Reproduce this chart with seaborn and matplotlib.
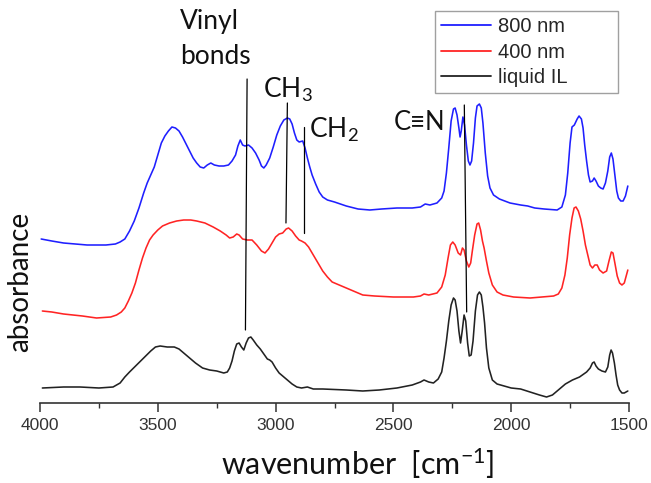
import matplotlib
matplotlib.use("Agg")
import matplotlib.pyplot as plt
from matplotlib.ticker import MultipleLocator
import pandas as pd
import seaborn as sns

# FTIR spectra (wavenumber in cm^-1, absorbance with vertical offsets)
wn_800 = [3995, 3950, 3900, 3800, 3720, 3680, 3660, 3640, 3620, 3600, 3580, 3560,
          3545, 3530, 3515, 3500, 3485, 3470, 3455, 3440, 3425, 3410, 3395, 3380,
          3365, 3350, 3335, 3320, 3305, 3290, 3275, 3260, 3240, 3220, 3200, 3185,
          3170, 3160, 3150, 3140, 3130, 3115, 3100, 3085, 3070, 3060, 3050, 3040,
          3025, 3010, 2995, 2980, 2965, 2950, 2940, 2930, 2920, 2910, 2900, 2885,
          2875, 2865, 2855, 2845, 2830, 2815, 2800, 2780, 2750, 2700, 2650, 2600,
          2550, 2485, 2420, 2385, 2365, 2345, 2315, 2295, 2285, 2275, 2265, 2255,
          2245, 2238, 2230, 2222, 2217, 2212, 2205, 2198, 2190, 2182, 2175, 2168,
          2160, 2152, 2145, 2135, 2127, 2120, 2110, 2100, 2090, 2075, 2050, 2005,
          1960, 1930, 1900, 1860, 1805, 1785, 1770, 1760, 1750, 1742, 1732, 1720,
          1712, 1702, 1695, 1688, 1680, 1672, 1665, 1655, 1648, 1640, 1630, 1620,
          1610, 1600, 1590, 1582, 1575, 1568, 1560, 1552, 1545, 1535, 1525, 1515,
          1505]
abs_800 = [1.64, 1.62, 1.60, 1.58, 1.58, 1.59, 1.61, 1.64, 1.72, 1.82, 1.95, 2.10,
           2.20, 2.28, 2.36, 2.48, 2.60, 2.67, 2.72, 2.76, 2.75, 2.72, 2.66, 2.59,
           2.52, 2.45, 2.40, 2.36, 2.35, 2.38, 2.40, 2.38, 2.37, 2.37, 2.38, 2.42,
           2.48, 2.57, 2.63, 2.58, 2.57, 2.58, 2.55, 2.50, 2.43, 2.37, 2.35, 2.38,
           2.45, 2.56, 2.68, 2.77, 2.83, 2.85, 2.84, 2.79, 2.70, 2.63, 2.61, 2.62,
           2.55, 2.45, 2.36, 2.28, 2.19, 2.11, 2.06, 2.03, 2.01, 1.97, 1.94, 1.93,
           1.94, 1.95, 1.95, 1.96, 1.99, 1.98, 2.00, 2.05, 2.12, 2.30, 2.55, 2.82,
           2.94, 2.95, 2.88, 2.75, 2.66, 2.72, 2.86, 2.78, 2.58, 2.42, 2.38, 2.42,
           2.60, 2.85, 2.97, 2.99, 2.95, 2.80, 2.50, 2.27, 2.15, 2.08, 2.04, 2.00,
           1.98, 1.97, 1.95, 1.94, 1.93, 1.96, 2.08, 2.30, 2.60, 2.76, 2.78, 2.84,
           2.87, 2.84, 2.75, 2.58, 2.42, 2.28, 2.21, 2.22, 2.25, 2.22, 2.17, 2.15,
           2.14, 2.20, 2.32, 2.46, 2.50, 2.44, 2.28, 2.12, 2.05, 2.02, 2.02, 2.07,
           2.17]

wn_400 = [3990, 3950, 3900, 3820, 3760, 3700, 3675, 3655, 3640, 3625, 3610, 3595,
          3580, 3565, 3550, 3535, 3520, 3500, 3480, 3450, 3420, 3390, 3360, 3335,
          3300, 3265, 3235, 3210, 3195, 3180, 3165, 3155, 3140, 3120, 3100, 3080,
          3060, 3045, 3030, 3015, 3000, 2985, 2970, 2955, 2945, 2930, 2915, 2900,
          2890, 2875, 2860, 2840, 2820, 2800, 2780, 2760, 2730, 2700, 2660, 2630,
          2580, 2500, 2415, 2385, 2370, 2350, 2315, 2295, 2280, 2268, 2258, 2248,
          2238, 2225, 2215, 2207, 2200, 2190, 2180, 2172, 2165, 2155, 2145, 2138,
          2130, 2122, 2115, 2105, 2095, 2080, 2060, 2035, 1990, 1920, 1870, 1820,
          1800, 1785, 1772, 1762, 1752, 1742, 1733, 1725, 1715, 1705, 1695, 1685,
          1675, 1665, 1655, 1645, 1635, 1625, 1610, 1595, 1585, 1575, 1568, 1560,
          1550, 1540, 1530, 1520, 1505]
abs_400 = [0.92, 0.91, 0.89, 0.87, 0.85, 0.86, 0.88, 0.91, 0.95, 1.02, 1.10, 1.20,
           1.33, 1.45, 1.55, 1.63, 1.68, 1.73, 1.77, 1.80, 1.82, 1.83, 1.83, 1.82,
           1.80, 1.76, 1.72, 1.68, 1.65, 1.66, 1.69, 1.68, 1.64, 1.63, 1.63, 1.58,
           1.52, 1.50, 1.54, 1.60, 1.66, 1.69, 1.70, 1.74, 1.75, 1.72, 1.67, 1.63,
           1.62, 1.60, 1.56, 1.48, 1.40, 1.32, 1.26, 1.21, 1.18, 1.15, 1.11, 1.08,
           1.07, 1.06, 1.06, 1.07, 1.09, 1.08, 1.10, 1.16, 1.28, 1.45, 1.58, 1.61,
           1.58, 1.50, 1.48, 1.55, 1.53, 1.42, 1.36, 1.40, 1.52, 1.68, 1.79, 1.80,
           1.73, 1.62, 1.55, 1.42, 1.30, 1.18, 1.11, 1.08, 1.06, 1.05, 1.06, 1.07,
           1.09, 1.15, 1.28, 1.45, 1.68, 1.85, 1.95, 1.96, 1.92, 1.84, 1.72, 1.58,
           1.48, 1.38, 1.35, 1.38, 1.38, 1.33, 1.30, 1.32, 1.42, 1.51, 1.50, 1.40,
           1.27, 1.20, 1.18, 1.20, 1.33]

wn_il = [3990, 3900, 3830, 3750, 3690, 3660, 3640, 3620, 3590, 3560, 3530, 3510,
         3490, 3460, 3430, 3410, 3390, 3365, 3340, 3310, 3280, 3250, 3220, 3205,
         3195, 3185, 3175, 3165, 3155, 3145, 3135, 3125, 3115, 3105, 3095, 3080,
         3065, 3050, 3035, 3025, 3015, 3000, 2985, 2970, 2950, 2930, 2910, 2890,
         2865, 2840, 2800, 2700, 2630, 2560, 2485, 2420, 2385, 2370, 2350, 2330,
         2310, 2295, 2285, 2275, 2265, 2255, 2245, 2238, 2230, 2222, 2215, 2208,
         2200, 2193, 2185, 2178, 2170, 2162, 2152, 2143, 2135, 2127, 2120, 2113,
         2105, 2095, 2080, 2060, 2030, 2000, 1960, 1920, 1880, 1850, 1825, 1800,
         1770, 1740, 1710, 1680, 1665, 1655, 1648, 1640, 1630, 1615, 1600, 1590,
         1582, 1576, 1570, 1562, 1555, 1548, 1540, 1530, 1520, 1505]
abs_il = [0.15, 0.16, 0.16, 0.15, 0.16, 0.20, 0.26, 0.31, 0.38, 0.45, 0.52, 0.56,
          0.57, 0.56, 0.56, 0.54, 0.50, 0.45, 0.40, 0.35, 0.33, 0.32, 0.30, 0.31,
          0.35, 0.42, 0.52, 0.59, 0.60, 0.56, 0.53, 0.60, 0.65, 0.66, 0.63, 0.58,
          0.54, 0.49, 0.44, 0.43, 0.41, 0.35, 0.30, 0.27, 0.23, 0.19, 0.16, 0.15,
          0.16, 0.14, 0.14, 0.13, 0.12, 0.13, 0.15, 0.18, 0.21, 0.23, 0.21, 0.20,
          0.24, 0.31, 0.45, 0.62, 0.82, 0.98, 1.05, 1.03, 0.92, 0.72, 0.60, 0.72,
          0.88, 0.82, 0.60, 0.47, 0.48, 0.62, 0.92, 1.08, 1.11, 1.08, 0.96, 0.80,
          0.55, 0.35, 0.23, 0.19, 0.17, 0.15, 0.14, 0.11, 0.08, 0.06, 0.08, 0.13,
          0.19, 0.23, 0.26, 0.31, 0.35, 0.40, 0.41, 0.37, 0.34, 0.32, 0.31, 0.36,
          0.48, 0.53, 0.50, 0.40, 0.28, 0.18, 0.13, 0.10, 0.10, 0.12]

series_names = ["800 nm", "400 nm", "liquid IL"]
series_colors = ["#1f1fff", "#ff2424", "#222222"]

# Band assignment markers: (wavenumber top, absorbance top, wavenumber bottom, absorbance bottom)
band_vinyl = (3121, 3.24, 3128, 0.73)
band_ch3 = (2950, 3.00, 2956, 1.80)
band_ch2 = (2878, 2.76, 2878, 1.70)
band_cn = (2199, 2.98, 2189, 0.91)

x_ticks = [4000, 3500, 3000, 2500, 2000, 1500]

df = pd.concat([
    pd.DataFrame({"wavenumber": wn_800, "absorbance": abs_800, "sample": "800 nm"}),
    pd.DataFrame({"wavenumber": wn_400, "absorbance": abs_400, "sample": "400 nm"}),
    pd.DataFrame({"wavenumber": wn_il, "absorbance": abs_il, "sample": "liquid IL"}),
], ignore_index=True)

sns.set_theme(style="white")
plt.rcParams["font.family"] = ["Lato", "DejaVu Sans"]
plt.rcParams["mathtext.default"] = "regular"

W, H = 651, 483
fig = plt.figure(figsize=(W / 100, H / 100), dpi=100)
ax = fig.add_axes([40 / W, (H - 403) / H, 589 / W, 403 / H])

sns.lineplot(data=df, x="wavenumber", y="absorbance", hue="sample",
             hue_order=series_names, palette=series_colors, estimator=None,
             sort=False, linewidth=1.15, ax=ax, legend=True)

ax.set_xlim(4000, 1500)
ax.set_ylim(0, 4.03)

for side in ["top", "right", "left"]:
    ax.spines[side].set_visible(False)
ax.spines["bottom"].set_color("#333333")
ax.spines["bottom"].set_linewidth(1.2)
ax.set_yticks([])
ax.set_xticks(x_ticks)
ax.set_xticklabels([str(t) for t in x_ticks])
ax.xaxis.set_minor_locator(MultipleLocator(250))
ax.tick_params(axis="x", which="major", direction="out", length=6.5, width=1.1,
               color="#333333", pad=4, labelsize=12.5, labelcolor="#333333",
               bottom=True)
ax.tick_params(axis="x", which="minor", direction="out", length=3.5, width=1.0,
               color="#333333", bottom=True)
for lbl in ax.get_xticklabels():
    lbl.set_family(["Liberation Sans", "DejaVu Sans"])

ax.set_xlabel("wavenumber  [cm$^{-1}$]", fontsize=22, color="#111111")
ax.xaxis.set_label_coords(0.54, -0.107)
ax.set_ylabel("absorbance", fontsize=20, color="#111111")
ax.yaxis.set_label_coords(-0.012, 0.30)

# Band markers and labels
for (x0, y0, x1, y1) in [band_vinyl, band_ch3, band_ch2, band_cn]:
    ax.plot([x0, x1], [y0, y1], color="black", linewidth=0.9)

ax.text(3406, 3.64, "Vinyl\nbonds", fontsize=19, ha="left", va="center",
        linespacing=1.45, color="#111111")
ax.text(3053, 3.05, "CH$_3$", fontsize=19, ha="left", va="baseline", color="#111111")
ax.text(2857, 2.65, "CH$_2$", fontsize=19, ha="left", va="baseline", color="#111111")
ax.text(2500, 2.73, "C≡N", fontsize=18.5, ha="left", va="baseline", color="#111111",
        family=["Lato", "DejaVu Sans"])

handles, labels = ax.get_legend_handles_labels()
for h in handles:
    h.set_linewidth(1.3)
leg = ax.legend(handles, labels, loc="upper left",
                bbox_to_anchor=(435 / W, 1 - 11 / H, 183 / W, 0.0),
                bbox_transform=fig.transFigure, mode="expand",
                prop={"family": ["Liberation Sans", "DejaVu Sans"], "size": 14.5},
                handlelength=2.5, handletextpad=0.35, labelspacing=0.33,
                borderpad=0.3, borderaxespad=0, frameon=True, fancybox=False)
leg.get_frame().set_edgecolor("#888888")
leg.get_frame().set_linewidth(1.0)

fig.savefig("out.png", dpi=100)
